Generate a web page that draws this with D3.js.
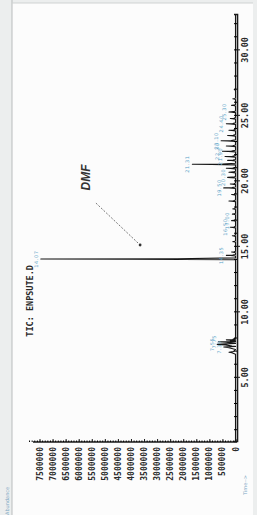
<!DOCTYPE html>
<html>
<head>
<meta charset="utf-8">
<script src="https://cdn.jsdelivr.net/npm/d3@7/dist/d3.min.js"></script>
<style>
  body { margin: 0; background: #eceeee; }
  svg { display: block; }
</style>
</head>
<body>
<div id="chart"></div>
<script>
// TIC chromatogram, page scanned sideways (time runs bottom -> top)
const timeTicks = [5, 10, 15, 20, 25, 30];
const abundanceTicks = [0, 500000, 1000000, 1500000, 2000000, 2500000, 3000000, 3500000,
  4000000, 4500000, 5000000, 5500000, 6000000, 6500000, 7000000, 7500000];

// peaks: retention time (min), apex abundance, half width (min)
const peakTimes = [6.95, 7.35, 7.55, 7.75, 7.9, 14.07, 14.35, 14.6, 15.4, 15.85, 16.5, 17.0,
  17.5, 17.9, 18.5, 19.0, 19.5, 19.8, 20.3, 20.7, 21.0, 21.31, 21.6, 21.9, 22.3, 22.7, 23.1,
  23.5, 23.9, 24.4, 24.8, 25.3, 25.8, 26.3, 27.0];
const peakHeights = [250000, 450000, 700000, 650000, 350000, 7450000, 350000, 150000, 100000,
  120000, 200000, 150000, 120000, 100000, 250000, 150000, 450000, 200000, 300000, 250000,
  350000, 1650000, 300000, 400000, 500000, 350000, 550000, 300000, 250000, 350000, 200000,
  250000, 150000, 100000, 50000];
const peakWidths = [0.15, 0.2, 0.15, 0.12, 0.08, 0.06, 0.05, 0.05, 0.05, 0.05, 0.05, 0.05,
  0.05, 0.05, 0.05, 0.05, 0.05, 0.05, 0.05, 0.05, 0.05, 0.05, 0.05, 0.05, 0.05, 0.05, 0.05,
  0.05, 0.05, 0.05, 0.05, 0.05, 0.05, 0.05, 0.05];
// peaks that carry a printed retention time
const labelledTimes = [7.35, 7.55, 7.75, 14.07, 14.35, 16.5, 17.0, 19.5, 20.3, 21.31, 21.9,
  22.3, 23.1, 24.4, 25.3];

const title = "TIC: ENPSUTE.D";

// chart is laid out upright, then turned a quarter turn anticlockwise
const W = 257, H = 515;
const oW = H, oH = W;

const x = d3.scaleLinear().domain([0.1, 32.7]).range([73, 500]);
const y = d3.scaleLinear().domain([0, 7500000]).range([235.5, 39.5]);
const axisY = 237;

const svg = d3.create("svg")
  .attr("width", W)
  .attr("height", H)
  .attr("viewBox", `0 0 ${W} ${H}`);

// scanned page
svg.append("rect").attr("x", 12).attr("y", 3).attr("width", 241).attr("height", H)
  .attr("fill", "#fcfcfc");
svg.append("line").attr("x1", 12).attr("x2", 12).attr("y1", 0).attr("y2", H)
  .attr("stroke", "#b9bcbd").attr("stroke-width", 1);
svg.append("line").attr("x1", 12).attr("x2", 253).attr("y1", 3).attr("y2", 3)
  .attr("stroke", "#cfd2d2").attr("stroke-width", 1);

const g = svg.append("g")
  .attr("transform", `translate(0,${H}) rotate(-90)`);

const peaks = peakTimes.map((t, i) => ({ t, h: peakHeights[i], w: peakWidths[i] }));

// trace built from the peak list
const pts = [{ t: 0.1, a: 0 }];
peaks.forEach((p) => {
  pts.push({ t: p.t - p.w, a: 0 });
  pts.push({ t: p.t - p.w * 0.25, a: p.h * 0.55 });
  pts.push({ t: p.t, a: p.h });
  pts.push({ t: p.t + p.w * 0.4, a: p.h * 0.3 });
  pts.push({ t: p.t + p.w * 1.4, a: 0 });
});
pts.push({ t: 32.7, a: 0 });
pts.sort((a, b) => a.t - b.t);

const line = d3.line().x((d) => x(d.t)).y((d) => y(d.a));

g.append("path")
  .datum(pts)
  .attr("fill", "none")
  .attr("stroke", "#161616")
  .attr("stroke-width", 1.1)
  .attr("stroke-linejoin", "round")
  .attr("d", line);

// time axis
const monoFont = "'DejaVu Sans Mono', monospace";

g.append("g")
  .attr("transform", `translate(0,${axisY})`)
  .call(d3.axisBottom(x).tickValues(d3.range(1, 33)).tickSize(-3).tickFormat(""))
  .call((s) => s.select(".domain").attr("stroke", "#1a1a1a").attr("stroke-width", 1.6));

g.append("g")
  .attr("transform", `translate(0,${axisY})`)
  .call(d3.axisBottom(x).tickValues(timeTicks).tickSize(3).tickPadding(2)
    .tickFormat(d3.format(".2f")))
  .call((s) => s.select(".domain").remove())
  .call((s) => s.selectAll("line").attr("stroke", "#1a1a1a"))
  .call((s) => s.selectAll("text")
    .attr("font-family", monoFont)
    .attr("font-size", 8.5)
    .attr("font-weight", "bold")
    .attr("fill", "#2a2a2a"));

// abundance axis
g.append("g")
  .attr("transform", `translate(${x(0.1)},0)`)
  .call(d3.axisLeft(y).tickValues(d3.range(0, 7900001, 100000)).tickSize(-1.5).tickFormat(""))
  .call((s) => s.select(".domain").attr("stroke", "#1a1a1a").attr("stroke-width", 1.4)
    .attr("d", `M0,${axisY}V33`));

g.append("g")
  .attr("transform", `translate(${x(0.1)},0)`)
  .call(d3.axisLeft(y).tickValues(abundanceTicks).tickSize(-3).tickPadding(5)
    .tickFormat(d3.format("d")))
  .call((s) => s.select(".domain").remove())
  .call((s) => s.selectAll("line").attr("stroke", "#1a1a1a"))
  .call((s) => s.selectAll("text")
    .attr("font-family", monoFont)
    .attr("font-size", 8)
    .attr("font-weight", "bold")
    .attr("fill", "#2a2a2a"));

// peak labels
g.append("g")
  .selectAll("text")
  .data(peaks.filter((p) => labelledTimes.includes(p.t)))
  .join("text")
  .attr("x", (d) => x(d.t))
  .attr("y", (d) => y(d.h) - 3)
  .attr("text-anchor", "middle")
  .attr("font-family", "'DejaVu Sans', sans-serif")
  .attr("font-size", 5)
  .attr("letter-spacing", 0.6)
  .attr("fill", "#5aa3c8")
  .text((d) => d.t.toFixed(2));

// file title
g.append("text")
  .attr("x", x(14.07) - 6)
  .attr("y", 33)
  .attr("text-anchor", "end")
  .attr("font-family", monoFont)
  .attr("font-size", 8.5)
  .attr("font-weight", "bold")
  .attr("fill", "#2a2a2a")
  .text(title);

// DMF annotation
const arrowFrom = { t: 18.34, a: 5340000 };
const arrowTo = { t: 15.14, a: 3650000 };
g.append("line")
  .attr("x1", x(arrowFrom.t)).attr("y1", y(arrowFrom.a))
  .attr("x2", x(arrowTo.t)).attr("y2", y(arrowTo.a))
  .attr("stroke", "#555").attr("stroke-width", 0.8).attr("stroke-dasharray", "2,1.5");
g.append("circle")
  .attr("cx", x(arrowTo.t)).attr("cy", y(arrowTo.a)).attr("r", 1.4).attr("fill", "#333");
g.append("text")
  .attr("x", x(19.3))
  .attr("y", y(5760000) + 5)
  .attr("font-family", "'Liberation Sans', Arial, sans-serif")
  .attr("font-size", 12)
  .attr("font-weight", "bold")
  .attr("font-style", "italic")
  .attr("fill", "#333")
  .text("DMF");

// corner captions
g.append("text")
  .attr("x", 0).attr("y", 9)
  .attr("font-family", "'DejaVu Sans', sans-serif").attr("font-size", 5)
  .attr("fill", "#7fa9c4")
  .text("Abundance");
g.append("text")
  .attr("x", 20).attr("y", 247)
  .attr("font-family", "'DejaVu Sans', sans-serif").attr("font-size", 5)
  .attr("fill", "#7fa9c4")
  .text("Time-->");

document.getElementById("chart").append(svg.node());
</script>
</body>
</html>
